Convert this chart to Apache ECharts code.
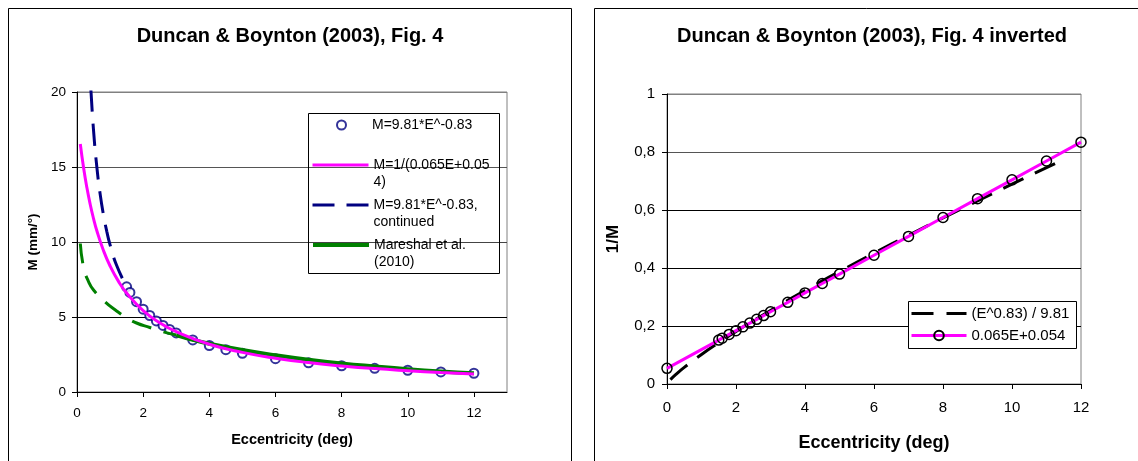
<!DOCTYPE html>
<html>
<head>
<meta charset="utf-8">
<script src="https://cdn.jsdelivr.net/npm/echarts@6/dist/echarts.min.js"></script>
<style>
html,body{margin:0;padding:0;background:#fff;}
#c{width:1138px;height:461px;}
</style>
</head>
<body>
<div id="c"></div>
<script>
// ---------- Left chart data: M (mm/deg) vs eccentricity ----------
const pointE = [1.5,1.6,1.8,2,2.2,2.4,2.6,2.8,3,3.5,4,4.5,5,6,7,8,9,10,11,12];
const pointM = [7.01,6.64,6.02,5.52,5.10,4.74,4.44,4.17,3.94,3.47,3.10,2.82,2.58,2.22,1.95,1.75,1.58,1.45,1.34,1.25];

const fitE = [0.1,0.2,0.3,0.4,0.5,0.6,0.8,1,1.25,1.5,2,2.5,3,4,5,6,7,8,9,10,11,12];
const fitM = [16.53,14.93,13.61,12.50,11.56,10.75,9.43,8.40,7.39,6.60,5.43,4.62,4.02,3.18,2.64,2.25,1.96,1.74,1.56,1.42,1.30,1.20];

const contE = [0.42,0.5,0.6,0.7,0.8,0.9,1.0,1.2,1.5];
const contM = [20.15,17.44,14.99,13.19,11.81,10.71,9.81,8.43,7.01];

const marDashE = [0.1,0.2,0.35,0.5,0.85,1.15,1.5,1.8,2.2,2.6,3];
const marDashM = [9.9,8.3,7.35,6.8,6.0,5.48,4.95,4.6,4.3,4.02,3.8];

const marE = [3,3.5,4,5,6,7,8,9,10,11,12];
const marM = [3.8,3.48,3.22,2.8,2.45,2.15,1.9,1.7,1.52,1.37,1.25];

// ---------- Right chart data: 1/M vs eccentricity ----------
const invE = [0,1.5,1.6,1.8,2,2.2,2.4,2.6,2.8,3,3.5,4,4.5,5,6,7,8,9,10,11,12];
const invV = [0.054,0.1515,0.158,0.171,0.184,0.197,0.21,0.223,0.236,0.249,0.2815,0.314,0.3465,0.379,0.444,0.509,0.574,0.639,0.704,0.769,0.834];

const powE = [0.1,0.25,0.5,1,1.5,2,3,4,5,6,7,8,9,10,11,11.5];
const powV = [0.0151,0.0323,0.0573,0.1019,0.1427,0.1812,0.2537,0.3221,0.3877,0.4511,0.5126,0.5727,0.6315,0.6892,0.746,0.7739];

// ---------- Text ----------
const leftTitle = 'Duncan & Boynton (2003), Fig. 4';
const rightTitle = 'Duncan & Boynton (2003), Fig. 4 inverted';
const xName = 'Eccentricity (deg)';
const leftYName = 'M (mm/°)';
const rightYName = '1/M';
const nPoints = 'M=9.81*E^-0.83';
const nFit = 'M=1/(0.065E+0.05\n4)';
const nCont = 'M=9.81*E^-0.83,\ncontinued';
const nMar = 'Mareshal et al.\n(2010)';
const nMarDash = 'Mareshal extrapolated';
const nPow = '(E^0.83) / 9.81';
const nLin = '0.065E+0.054';

const zip = (a, b) => a.map((v, i) => [v, b[i]]);
const FONT = '"Liberation Sans", Arial, sans-serif';

const chart = echarts.init(document.getElementById('c'), null, {renderer: 'canvas'});

const yAxisCommon = {
  type: 'value',
  axisLine: {show: true, lineStyle: {color: '#000', width: 1}},
  axisTick: {show: true, inside: false, length: 5, lineStyle: {color: '#000'}},
  nameLocation: 'middle',
  nameTextStyle: {fontFamily: FONT, fontWeight: 'bold', color: '#000'}
};
const xAxisCommon = {
  type: 'value',
  axisLine: {show: true, onZero: false, lineStyle: {color: '#000', width: 1}},
  axisTick: {show: true, inside: false, length: 5, lineStyle: {color: '#000'}},
  splitLine: {show: false},
  nameLocation: 'middle',
  nameTextStyle: {fontFamily: FONT, fontWeight: 'bold', color: '#000'}
};

const legText14 = {fontFamily: FONT, fontSize: 14, lineHeight: 17, color: '#000'};
const lineLegend = (name, w) => ({name: name, itemStyle: {opacity: 0}, lineStyle: {width: w}});
// multi-line entries: icon aligned with the first text line (leading blank line balances the block)
const multiLegend = (name, w, top) => ({
  data: [lineLegend(name, w)], orient: 'vertical', left: 311, top: top, padding: 0,
  itemWidth: 56, itemHeight: 14, selectedMode: false, textStyle: legText14,
  formatter: n => '\n' + n
});

const option = {
  animation: false,
  backgroundColor: '#fff',
  textStyle: {fontFamily: FONT},
  title: [
    {text: leftTitle, left: 290, top: 26, textAlign: 'center', padding: 0,
     textStyle: {fontFamily: FONT, fontWeight: 'bold', fontSize: 20, color: '#000'}},
    {text: rightTitle, left: 872, top: 26, textAlign: 'center', padding: 0,
     textStyle: {fontFamily: FONT, fontWeight: 'bold', fontSize: 20, color: '#000'}}
  ],
  grid: [
    {left: 77, top: 92, width: 430, height: 300, show: true, borderColor: '#808080', borderWidth: 1, backgroundColor: '#fff'},
    {left: 667, top: 94, width: 414, height: 290, show: true, borderColor: '#808080', borderWidth: 1, backgroundColor: '#fff'}
  ],
  xAxis: [
    Object.assign({}, xAxisCommon, {gridIndex: 0, min: 0, max: 13, interval: 2,
      name: xName, nameGap: 40, nameTextStyle: Object.assign({}, xAxisCommon.nameTextStyle, {fontSize: 14.5}),
      axisLabel: {fontSize: 13.5, color: '#000', margin: 14, fontFamily: FONT,
        showMaxLabel: false}}),
    Object.assign({}, xAxisCommon, {gridIndex: 1, min: 0, max: 12, interval: 2,
      name: xName, nameGap: 50, nameTextStyle: Object.assign({}, xAxisCommon.nameTextStyle, {fontSize: 18}),
      axisLabel: {fontSize: 15, color: '#000', margin: 16, fontFamily: FONT}})
  ],
  yAxis: [
    Object.assign({}, yAxisCommon, {gridIndex: 0, min: 0, max: 20, interval: 5,
      name: leftYName, nameGap: 37, nameTextStyle: Object.assign({}, yAxisCommon.nameTextStyle, {fontSize: 13.5}),
      axisLabel: {fontSize: 13.5, color: '#000', margin: 11, fontFamily: FONT},
      splitLine: {show: true, lineStyle: {color: ['#000', '#000', '#444', '#555', '#808080'], width: 1}}}),
    Object.assign({}, yAxisCommon, {gridIndex: 1, min: 0, max: 1, interval: 0.2,
      name: rightYName, nameGap: 45, nameTextStyle: Object.assign({}, yAxisCommon.nameTextStyle, {fontSize: 17}),
      axisLabel: {fontSize: 15, color: '#000', margin: 12, fontFamily: FONT,
        formatter: v => String(+v.toFixed(1)).replace('.', ',')},
      splitLine: {show: true, lineStyle: {color: ['#000', '#000', '#000', '#000', '#555', '#808080'], width: 1}}})
  ],
  legend: [
    {data: [nPoints], orient: 'vertical', left: 336, top: 116.5, padding: 0,
     itemWidth: 9, itemHeight: 9, selectedMode: false,
     textStyle: Object.assign({}, legText14, {padding: [0, 0, 0, 21]})},
    multiLegend(nFit, 3, 139.5),
    multiLegend(nCont, 3, 179.5),
    multiLegend(nMar, 4, 219.5),
    {data: [lineLegend(nPow, 3), {name: nLin, lineStyle: {width: 3}}], orient: 'vertical', left: 910, top: 305, padding: 0,
     itemWidth: 55, itemHeight: 12, itemGap: 5, selectedMode: false,
     textStyle: {fontFamily: FONT, fontSize: 15, lineHeight: 17, color: '#000'}}
  ],
  graphic: [
    {type: 'rect', shape: {x: 8.5, y: 8.5, width: 563, height: 470}, style: {fill: 'none', stroke: '#000', lineWidth: 1}, z: 100, silent: true},
    {type: 'rect', shape: {x: 594.5, y: 8.5, width: 560, height: 470}, style: {fill: 'none', stroke: '#000', lineWidth: 1}, z: 100, silent: true},
    {type: 'rect', shape: {x: 308.5, y: 113.5, width: 191, height: 160}, style: {fill: 'none', stroke: '#000', lineWidth: 1}, z: 100, silent: true},
    {type: 'rect', shape: {x: 908.5, y: 301.5, width: 168, height: 47}, style: {fill: '#fff', stroke: '#000', lineWidth: 1}, z: 1, silent: true}
  ],
  series: [
    {name: nMarDash, type: 'line', xAxisIndex: 0, yAxisIndex: 0, data: zip(marDashE, marDashM),
     smooth: true, symbol: 'none', lineStyle: {color: '#008000', width: 3, type: [20, 13]}, itemStyle: {color: '#008000'}, silent: true},
    {name: nMar, type: 'line', xAxisIndex: 0, yAxisIndex: 0, data: zip(marE, marM),
     smooth: true, symbol: 'none', lineStyle: {color: '#008000', width: 4}, itemStyle: {color: '#008000'}, silent: true},
    {name: nFit, type: 'line', xAxisIndex: 0, yAxisIndex: 0, data: zip(fitE, fitM),
     smooth: true, symbol: 'none', lineStyle: {color: '#FF00FF', width: 3}, itemStyle: {color: '#FF00FF'}, silent: true},
    {name: nCont, type: 'line', xAxisIndex: 0, yAxisIndex: 0, data: zip(contE, contM), clip: true,
     smooth: true, symbol: 'none', lineStyle: {color: '#000080', width: 3, type: [22, 12]}, itemStyle: {color: '#000080'}, silent: true},
    {name: nPoints, type: 'scatter', xAxisIndex: 0, yAxisIndex: 0, data: zip(pointE, pointM),
     symbol: 'emptyCircle', symbolSize: 9, itemStyle: {color: '#000080', borderColor: '#000080', borderWidth: 1.5}, silent: true},

    {name: nPow, type: 'line', xAxisIndex: 1, yAxisIndex: 1, data: zip(powE, powV),
     smooth: true, symbol: 'none', lineStyle: {color: '#000', width: 3, type: [22, 13]}, itemStyle: {color: '#000'}, silent: true},
    {name: nLin, type: 'line', xAxisIndex: 1, yAxisIndex: 1, data: zip(invE, invV),
     symbol: 'circle', symbolSize: 10, showAllSymbol: true,
     lineStyle: {color: '#FF00FF', width: 3},
     itemStyle: {color: 'rgba(255,255,255,0)', borderColor: '#000', borderWidth: 1.5}, silent: true}
  ]
};
chart.setOption(option);
</script>
</body>
</html>
